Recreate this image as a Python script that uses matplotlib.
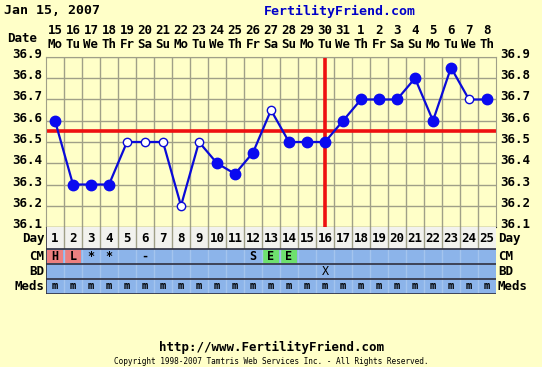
import numpy as np
import matplotlib.pyplot as plt
from matplotlib.transforms import ScaledTranslation

# Datos del gráfico
fechas = [15, 16, 17, 18, 19, 20, 21, 22, 23, 24, 25, 26, 27, 28, 29, 30, 31,
          1, 2, 3, 4, 5, 6, 7, 8]
dias_semana = ['Mo', 'Tu', 'We', 'Th', 'Fr', 'Sa', 'Su'] * 3 + ['Mo', 'Tu', 'We', 'Th']
dias = np.arange(1, 26)
temperaturas = [36.6, 36.3, 36.3, 36.3, 36.5, 36.5, 36.5, 36.2, 36.5, 36.4,
                36.35, 36.45, 36.65, 36.5, 36.5, 36.5, 36.6, 36.7, 36.7, 36.7,
                36.8, 36.6, 36.85, 36.7, 36.7]
abiertos = [0, 0, 0, 0, 1, 1, 1, 1, 1, 0, 0, 0, 1, 0, 0, 0, 0, 0, 0, 0, 0, 0, 0, 1, 0]
cm_texto = ['H', 'L', '*', '*', '', '-', '', '', '', '', '', 'S', 'E', 'E',
            '', '', '', '', '', '', '', '', '', '', '']
cm_color = ['#ec8080', '#ec8080', None, None, None, None, None, None, None, None,
            None, None, '#6ee06e', '#6ee06e', None, None, None, None, None, None,
            None, None, None, None, None]
bd_texto = [''] * 15 + ['X'] + [''] * 9
meds_texto = ['m'] * 25
y_ticks = [36.1, 36.2, 36.3, 36.4, 36.5, 36.6, 36.7, 36.8, 36.9]
linea_cobertura = 36.55
dia_ovulacion = 16

fondo = '#ffffc8'
azul_tabla = '#8cb4ea'
rejilla = '#a0a088'
fuente = 'DejaVu Sans Mono'

W, H = 542, 367
fig = plt.figure(figsize=(W / 100, H / 100), dpi=100, facecolor=fondo)

# ---- grafica de temperaturas
x0, x1 = 46, 496
y_top, y_bot = 57, 227
ax = fig.add_axes([x0 / W, 1 - y_bot / H, (x1 - x0) / W, (y_bot - y_top) / H])
ax.set_facecolor(fondo)
ax.set_xlim(0.5, 25.5)
ax.set_ylim(36.1, 36.9)
for xv in np.arange(1.5, 25.5, 1):
    ax.axvline(xv, color=rejilla, lw=1, zorder=1)
for yv in y_ticks:
    ax.axhline(yv, color=rejilla, lw=1, zorder=1)
ax.axhline(linea_cobertura, color='#ee1010', lw=2.6, zorder=2)
ax.axvline(dia_ovulacion, color='#ee1010', lw=2.6, zorder=2)
ax.plot(dias, temperaturas, color='#0a0ad8', lw=1.6, zorder=3)
t = np.array(temperaturas)
a = np.array(abiertos, dtype=bool)
ax.plot(dias[~a], t[~a], 'o', color='#0a0af0', ms=7.5, zorder=4)
ax.plot(dias[a], t[a], 'o', mfc='white', mec='#0a0ad8', mew=1, ms=6, zorder=4)
ax.set_xticks([])
ax.set_yticks(y_ticks)
ax.set_yticklabels(['%.1f' % v for v in y_ticks], family=fuente, weight='bold', fontsize=9)
ax.tick_params(axis='y', length=0, pad=3, labelright=True, right=False)
# etiquetas un poco por encima de la linea
subir = ScaledTranslation(0, 4 / 100, fig.dpi_scale_trans)
for tk in ax.yaxis.get_major_ticks():
    tk.label1.set_transform(tk.label1.get_transform() + subir)
    tk.label2.set_transform(tk.label2.get_transform() + subir)
for s in ['top', 'left', 'right']:
    ax.spines[s].set_color(rejilla)
ax.spines['bottom'].set_color('#303030')

# fechas arriba
ax_top = ax.secondary_xaxis('top')
ax_top.set_xticks(dias)
ax_top.set_xticklabels(['%d\n%s' % (f, d) for f, d in zip(fechas, dias_semana)],
                       family=fuente, weight='bold', fontsize=9, linespacing=1.1)
ax_top.tick_params(length=0, pad=4)
ax_top.spines['top'].set_visible(False)

# ---- tabla inferior
filas = [0, 22, 37, 52, 67]
tb = fig.add_axes([x0 / W, 1 - (y_bot + 67) / H, (x1 - x0) / W, 67 / H])
tb.set_xlim(0.5, 25.5)
tb.set_ylim(67, 0)
tb.axis('off')
tb.axhspan(filas[0], filas[1], color='#f2f2ee', zorder=0)
tb.axhspan(filas[1], filas[4], color=azul_tabla, zorder=0)
for i, c in enumerate(cm_color):
    if c:
        tb.bar(dias[i], filas[2] - filas[1] - 2, bottom=filas[1] + 1, width=0.9,
               color=c, zorder=1)
for xv in np.arange(1.5, 25.5, 1):
    tb.plot([xv, xv], [filas[0], filas[1]], color=rejilla, lw=1, zorder=2)
    tb.plot([xv, xv], [filas[1], filas[4]], color='#a4c4ee', lw=1, zorder=2)
for yv in filas[1:]:
    tb.plot([0.5, 25.5], [yv, yv], color='#303040', lw=1.2, zorder=3)
tb.plot([0.5, 0.5], [0, 67], color='#303040', lw=1.2, zorder=3)

for i in range(25):
    tb.text(dias[i], 11.5, str(dias[i]), ha='center', va='center',
            family=fuente, weight='bold', fontsize=9)
    tb.text(dias[i], 29.5, cm_texto[i], ha='center', va='center',
            family=fuente, weight='bold', fontsize=8.5)
    tb.text(dias[i], 44.5, bd_texto[i], ha='center', va='center',
            family=fuente, fontsize=8.5)
    tb.text(dias[i], 59, meds_texto[i], ha='center', va='center',
            family=fuente, weight='bold', fontsize=7.5)

etiquetas = ['Day', 'CM', 'BD', 'Meds']
centros = [11.5, 29.5, 44.5, 59.5]
for e, yc in zip(etiquetas, centros):
    tb.text(0.42, yc, e, ha='right', va='center', family=fuente,
            weight='bold', fontsize=9)
    tb.text(25.6, yc, e, ha='left', va='center', family=fuente,
            weight='bold', fontsize=9)

# ---- textos
fig.text(4 / W, 1 - 11 / H, 'Jan 15, 2007', family=fuente, weight='bold',
         fontsize=9.5, va='center')
fig.text(340 / W, 1 - 11 / H, 'FertilityFriend.com', family=fuente, weight='bold',
         fontsize=9.5, va='center', ha='center', color='#0000c8')
fig.text(22 / W, 1 - 38 / H, 'Date', family=fuente, weight='bold',
         fontsize=9, va='center', ha='center')
fig.text(271 / W, 1 - 347 / H, 'http://www.FertilityFriend.com', family=fuente,
         weight='bold', fontsize=9, va='center', ha='center')
fig.text(271 / W, 1 - 362 / H,
         'Copyright 1998-2007 Tamtris Web Services Inc. - All Rights Reserved.',
         family=fuente, fontsize=5.6, va='center', ha='center')

fig.savefig('out.png', dpi=100, facecolor=fondo)
